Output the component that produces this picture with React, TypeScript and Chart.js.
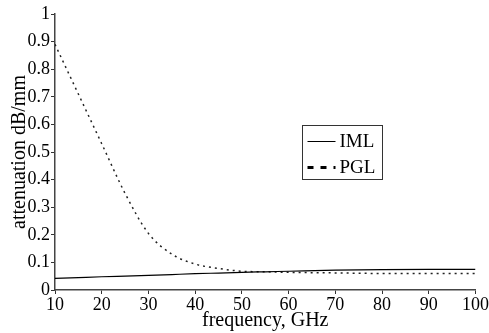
import React, { useEffect, useRef } from "react";
import { Chart, registerables } from "chart.js";

Chart.register(...registerables);

const frequencies = [10, 15, 20, 25, 30, 35, 40, 45, 50, 55, 60, 70, 80, 90, 100];
const imlValues = [0.042, 0.045, 0.048, 0.0505, 0.053, 0.056, 0.059, 0.0615, 0.064, 0.066, 0.068, 0.072, 0.074, 0.075, 0.075];
const pglValues = [0.89, 0.71, 0.53, 0.35, 0.205, 0.13, 0.094, 0.078, 0.068, 0.066, 0.064, 0.062, 0.06, 0.06, 0.06];
const seriesLabels = ["IML", "PGL"];
const xTitle = "frequency, GHz";
const yTitle = "attenuation dB/mm";

const FONT = "'Liberation Serif', 'Times New Roman', serif";

const legendPlugin = {
  id: "boxLegend",
  afterDraw(chart: any) {
    const ctx = chart.ctx;
    const x = 302.5, y = 125.5, w = 80, h = 54;
    ctx.save();
    ctx.fillStyle = "#fff";
    ctx.fillRect(x, y, w, h);
    ctx.strokeStyle = "#333";
    ctx.lineWidth = 1;
    ctx.strokeRect(x, y, w, h);
    chart.data.datasets.forEach((ds: any, i: number) => {
      const cy = y + 16 + i * 26;
      ctx.beginPath();
      ctx.strokeStyle = "#000";
      if (i === 0) {
        ctx.lineWidth = 1;
        ctx.setLineDash([]);
      } else {
        ctx.lineWidth = 3;
        ctx.setLineDash([6, 7]);
      }
      ctx.moveTo(x + 5, cy);
      ctx.lineTo(x + 33, cy);
      ctx.stroke();
      ctx.setLineDash([]);
      ctx.fillStyle = "#000";
      ctx.font = `19px ${FONT}`;
      ctx.textBaseline = "middle";
      ctx.textAlign = "left";
      ctx.fillText(ds.label, x + 37, cy + 1);
    });
    ctx.restore();
  },
};

export default function App() {
  const ref = useRef<HTMLCanvasElement | null>(null);
  useEffect(() => {
    if (!ref.current) return;
    const chart = new Chart(ref.current, {
      type: "line",
      data: {
        datasets: [
          {
            label: seriesLabels[0],
            data: frequencies.map((f, i) => ({ x: f, y: imlValues[i] })),
            borderColor: "#000",
            borderWidth: 1.2,
            pointRadius: 0,
            tension: 0.4,
            cubicInterpolationMode: "monotone",
          },
          {
            label: seriesLabels[1],
            data: frequencies.map((f, i) => ({ x: f, y: pglValues[i] })),
            borderColor: "#222",
            borderWidth: 1.5,
            borderDash: [2, 4],
            pointRadius: 0,
            tension: 0.4,
            cubicInterpolationMode: "monotone",
          },
        ],
      },
      options: {
        animation: false,
        responsive: false,
        layout: { padding: { top: 14, right: 13, left: 0, bottom: 0 } },
        plugins: { legend: { display: false }, tooltip: { enabled: false } },
        scales: {
          x: {
            type: "linear",
            min: 10,
            max: 100,
            ticks: { stepSize: 10, color: "#000", font: { family: FONT, size: 18 }, padding: 0, maxRotation: 0 },
            grid: { drawOnChartArea: false, drawTicks: true, tickLength: 4, color: "#333" },
            border: { color: "#444", width: 1.5 },
            title: { display: true, text: xTitle, color: "#000", font: { family: FONT, size: 20 }, padding: { top: -6, bottom: 0 } },
            afterFit: (s: any) => { s.height = 43; },
          },
          y: {
            min: 0,
            max: 1,
            ticks: {
              stepSize: 0.1,
              color: "#000",
              font: { family: FONT, size: 18 },
              padding: 1,
              callback: (v: any) => String(Math.round(Number(v) * 10) / 10),
            },
            grid: { drawOnChartArea: false, drawTicks: true, tickLength: 4, color: "#333" },
            border: { color: "#444", width: 1.5 },
            title: { display: true, text: yTitle, color: "#000", font: { family: FONT, size: 20 }, padding: { top: 8, bottom: 0 } },
            afterFit: (s: any) => { s.width = 55; },
          },
        },
      },
      plugins: [legendPlugin],
    });
    return () => chart.destroy();
  }, []);
  return (
    <canvas
      ref={ref}
      width={489}
      height={333}
      style={{ position: "fixed", left: 0, top: 0, width: 489, height: 333 }}
    />
  );
}
